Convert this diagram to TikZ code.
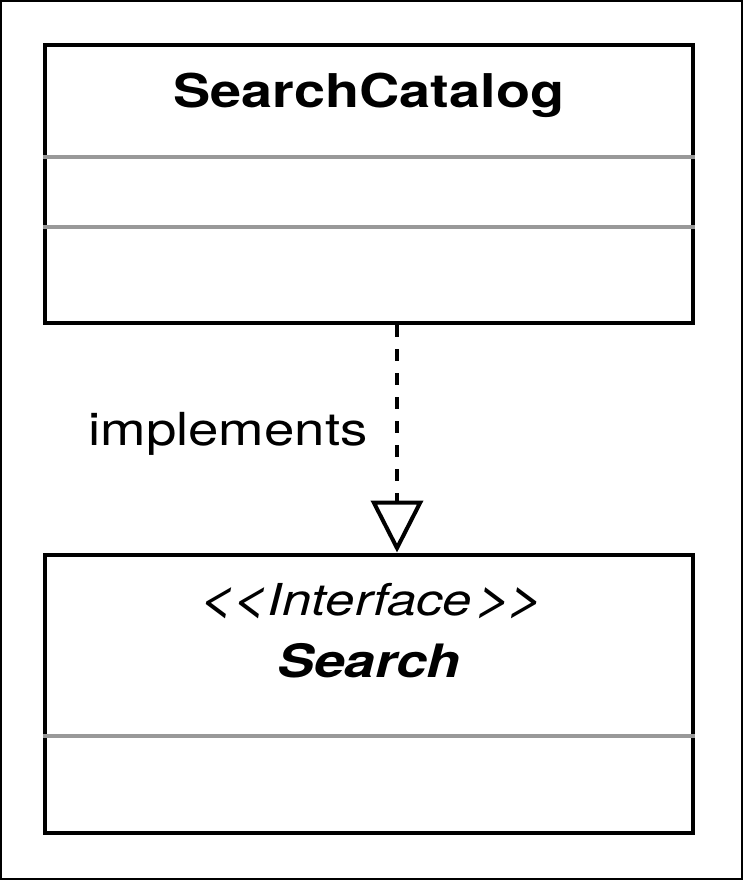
\documentclass[tikz,border=0pt]{standalone}
\usepackage{fontspec}
\setmainfont{TeX Gyre Heros}[FakeStretch=1.2]
\newfontfamily\anglefont{TeX Gyre Heros}[FakeStretch=1.35, FakeSlant=0.2]
\usetikzlibrary{arrows.meta}
\definecolor{dividergray}{HTML}{999999}
\tikzset{
  classbox/.style={draw, line width=4pt, minimum width=648pt, inner sep=0pt},
  divider/.style={draw=dividergray, line width=4pt},
  realizes/.style={draw, line width=4pt, dash pattern=on 12pt off 12pt,
    -{Triangle[open, length=52pt, width=52pt]}}
}
\newcommand{\guil}[1]{{\anglefont\fontsize{49}{50}\selectfont #1}}
\begin{document}
\begin{tikzpicture}[x=1pt, y=-1pt]
% Set the page frame
\useasboundingbox (0, 0) rectangle (743, 880);
\draw[line width=2pt] (1, 1) rectangle (742, 879);

% Draw the class boxes
\node[classbox, minimum height=278pt] (catalog) at (369, 184) {};
\node[classbox, minimum height=278pt] (search) at (369, 693.5) {};

% Insert the compartment lines
\draw[divider] (catalog.west |- 0, 157) -- (catalog.east |- 0, 157);
\draw[divider] (catalog.west |- 0, 227) -- (catalog.east |- 0, 227);
\draw[divider] (search.west |- 0, 736) -- (search.east |- 0, 736);

% Insert the names
\node[anchor=base, font=\fontsize{46.5}{50}\selectfont\bfseries] (catalogname) at (369, 108) {SearchCatalog};
\node[anchor=base, font=\fontsize{44}{48}\selectfont\itshape] (stereotype) at (370, 615)
  {\guil{<\kern-6pt<}Interface\guil{>\kern-6pt>}};
\node[anchor=base, font=\fontsize{46}{50}\selectfont\bfseries\itshape] (searchname) at (369, 677) {Search};

% Draw the realization
\draw[realizes] ([xshift=28pt]catalog.south) -- ([xshift=28pt]search.north);
\node[anchor=base west, font=\fontsize{45.5}{50}\selectfont, inner sep=0pt] (implements) at (88, 445) {implements};
\end{tikzpicture}
\end{document}
